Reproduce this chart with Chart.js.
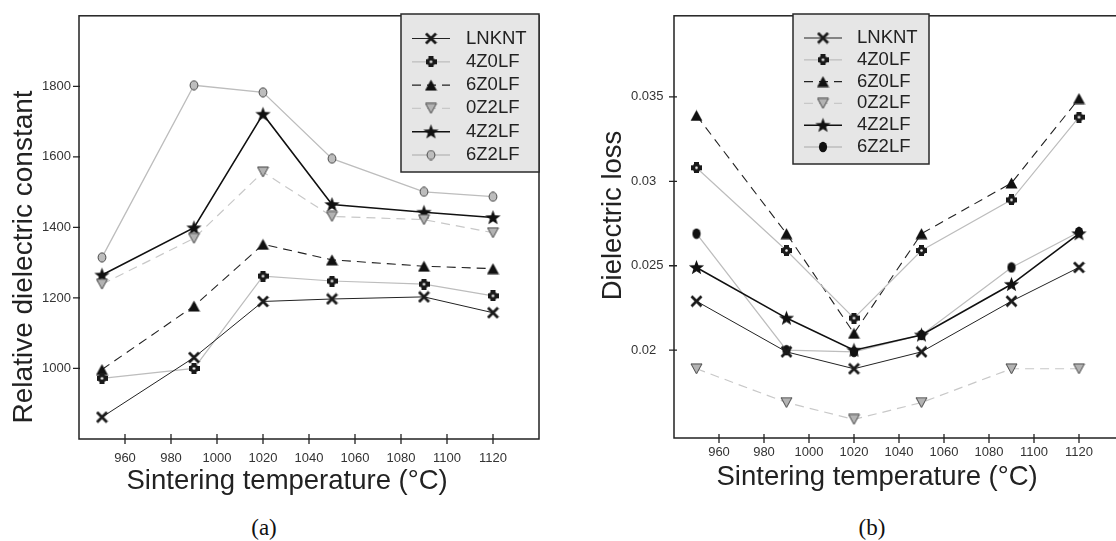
<!DOCTYPE html>
<html><head><meta charset="utf-8">
<script src="https://cdn.jsdelivr.net/npm/chart.js@4.4.1/dist/chart.umd.min.js"></script>
<style>
html,body{margin:0;padding:0;background:#fff;overflow:hidden;width:1116px;height:541px;}
#wrap{position:relative;width:1116px;height:541px;overflow:hidden;background:#fff;}
canvas{position:absolute;top:0;}
#cA{left:0;}
#cB{left:560px;}
.cap{position:absolute;font-family:"Liberation Serif","Times New Roman",serif;font-size:23px;color:#111;width:100px;text-align:center;line-height:28px;top:514px;}
</style></head><body>
<div id="wrap">
<canvas id="cA" width="548" height="505"></canvas>
<canvas id="cB" width="575" height="505"></canvas>
<div class="cap" style="left:214px">(a)</div>
<div class="cap" style="left:822px">(b)</div>
</div>
<script>
// ---- data ----
const temperatures = [950, 990, 1020, 1050, 1090, 1120];
const seriesNames = ['LNKNT', '4Z0LF', '6Z0LF', '0Z2LF', '4Z2LF', '6Z2LF'];

// (a) relative dielectric constant
const epsLNKNT = [862, 1031, 1190, 1197, 1203, 1158];
const eps4Z0LF = [972, 1000, 1262, 1248, 1239, 1206];
const eps6Z0LF = [997, 1177, 1352, 1308, 1290, 1283];
const eps0Z2LF = [1239, 1369, 1557, 1431, 1422, 1385];
const eps4Z2LF = [1265, 1399, 1721, 1465, 1443, 1428];
const eps6Z2LF = [1315, 1803, 1783, 1595, 1501, 1487];

// (b) dielectric loss
const lossLNKNT = [0.0229, 0.0199, 0.0189, 0.0199, 0.0229, 0.0249];
const loss4Z0LF = [0.0308, 0.0259, 0.0219, 0.0259, 0.0289, 0.0338];
const loss6Z0LF = [0.0339, 0.0269, 0.0210, 0.0269, 0.0299, 0.0349];
const loss0Z2LF = [0.0189, 0.0169, 0.0159, 0.0169, 0.0189, 0.0189];
const loss4Z2LF = [0.0249, 0.0219, 0.0200, 0.0209, 0.0239, 0.0269];
const loss6Z2LF = [0.0269, 0.0200, 0.0199, 0.0209, 0.0249, 0.0270];

// tick values
const xTicks = [940, 960, 980, 1000, 1020, 1040, 1060, 1080, 1100, 1120, 1140];
const epsTicks = [800, 1000, 1200, 1400, 1600, 1800, 2000];
const lossTicks = [0.02, 0.025, 0.03, 0.035];

// ---- styles ----
const FAM = '"Liberation Sans", Arial, Helvetica, sans-serif';
const lineStyles = [
  {color: '#222', width: 1, dash: []},
  {color: '#bdbdbd', width: 1.2, dash: []},
  {color: '#222', width: 1.1, dash: [9, 6]},
  {color: '#c8c8c8', width: 1.2, dash: [9, 6]},
  {color: '#111', width: 1.6, dash: []},
  {color: '#bdbdbd', width: 1.3, dash: []}
];

function makeMarker(w, h, draw) {
  const c = document.createElement('canvas');
  c.width = w; c.height = h;
  draw(c.getContext('2d'));
  return c;
}
const mX = makeMarker(13, 13, g => {
  g.strokeStyle = '#1a1a1a'; g.lineWidth = 2.8;
  g.beginPath(); g.moveTo(1.5, 1.5); g.lineTo(11.5, 11.5); g.moveTo(11.5, 1.5); g.lineTo(1.5, 11.5); g.stroke();
});
const mPlus = makeMarker(11, 11, g => {
  g.fillStyle = '#1a1a1a';
  g.fillRect(3, 0, 5, 11); g.fillRect(0, 3, 11, 5);
  g.beginPath(); g.arc(5.5, 5.5, 4.4, 0, Math.PI * 2); g.fill();
  g.fillStyle = '#fff'; g.beginPath(); g.arc(5.5, 5.5, 1.3, 0, Math.PI * 2); g.fill();
});
const mTri = makeMarker(13, 12, g => {
  g.fillStyle = '#111';
  g.beginPath(); g.moveTo(6.5, 0.5); g.lineTo(12.5, 11.5); g.lineTo(0.5, 11.5); g.closePath(); g.fill();
});
const mTriDown = makeMarker(13, 12, g => {
  g.fillStyle = '#b3b3b3'; g.strokeStyle = '#444'; g.lineWidth = 1;
  g.beginPath(); g.moveTo(1, 1); g.lineTo(12, 1); g.lineTo(6.5, 11); g.closePath(); g.fill(); g.stroke();
});
const mStar = makeMarker(17, 17, g => {
  g.fillStyle = '#111'; g.beginPath();
  for (let i = 0; i < 10; i++) {
    const r = i % 2 ? 3.3 : 8.0;
    const a = -Math.PI / 2 + i * Math.PI / 5;
    const x = 8.5 + r * Math.cos(a), y = 8.9 + r * Math.sin(a);
    if (i) g.lineTo(x, y); else g.moveTo(x, y);
  }
  g.closePath(); g.fill();
});
const mOvalGray = makeMarker(10, 11, g => {
  g.fillStyle = '#bdbdbd'; g.strokeStyle = '#444'; g.lineWidth = 1;
  g.beginPath(); g.ellipse(5, 5.5, 3.9, 4.6, 0, 0, Math.PI * 2); g.fill(); g.stroke();
});
const mOvalBlack = makeMarker(10, 12, g => {
  g.fillStyle = '#111';
  g.beginPath(); g.ellipse(5, 6, 4.1, 5.3, 0, 0, Math.PI * 2); g.fill();
});

function buildDatasets(lists, markers) {
  return seriesNames.map((name, i) => ({
    label: name,
    data: temperatures.map((t, j) => ({x: t, y: lists[i][j]})),
    borderColor: lineStyles[i].color,
    borderWidth: lineStyles[i].width,
    borderDash: lineStyles[i].dash,
    pointStyle: markers[i],
    pointRadius: 5,
    pointHoverRadius: 5,
    fill: false,
    tension: 0
  }));
}

const framePlugin = {
  id: 'frame',
  afterDatasetsDraw(chart, args, o) {
    const {ctx, chartArea: a} = chart;
    const x = chart.scales.x, y = chart.scales.y;
    ctx.save();
    ctx.strokeStyle = '#222'; ctx.lineWidth = 1.5;
    ctx.strokeRect(a.left, a.top, a.right - a.left, a.bottom - a.top);
    ctx.lineWidth = 1.3; ctx.beginPath();
    x.ticks.forEach(t => { const p = x.getPixelForValue(t.value); ctx.moveTo(p, a.bottom - o.xIn); ctx.lineTo(p, a.bottom + o.xOut); });
    y.ticks.forEach(t => { const p = y.getPixelForValue(t.value); ctx.moveTo(a.left - o.yOut, p); ctx.lineTo(a.left + o.yIn, p); });
    ctx.stroke();
    ctx.restore();
  }
};
const boxLegend = {
  id: 'boxLegend',
  afterDraw(chart, args, o) {
    const ctx = chart.ctx;
    ctx.save();
    ctx.fillStyle = '#e6e6e6'; ctx.fillRect(o.x, o.y, o.w, o.h);
    ctx.strokeStyle = '#2a2a2a'; ctx.lineWidth = 1.5; ctx.strokeRect(o.x, o.y, o.w, o.h);
    chart.data.datasets.forEach((ds, i) => {
      const cy = o.row0 + i * o.rowGap;
      ctx.strokeStyle = ds.borderColor; ctx.lineWidth = ds.borderWidth; ctx.setLineDash(ds.borderDash || []);
      ctx.beginPath(); ctx.moveTo(o.lineX1, cy); ctx.lineTo(o.lineX2, cy); ctx.stroke();
      ctx.setLineDash([]);
      const img = ds.pointStyle, mx = (o.lineX1 + o.lineX2) / 2;
      ctx.drawImage(img, mx - img.width / 2, cy - img.height / 2);
      ctx.fillStyle = '#222'; ctx.font = o.font; ctx.textBaseline = 'middle'; ctx.textAlign = 'left';
      ctx.fillText(ds.label, o.textX, cy);
    });
    ctx.restore();
  }
};

function xScale(height, pad, title, titlePad) {
  return {
    type: 'linear', min: xTicks[0], max: xTicks[xTicks.length - 1],
    afterFit(s) { s.height = height; },
    afterBuildTicks(s) { s.ticks = xTicks.map(v => ({value: v})); },
    ticks: {padding: pad, color: '#333', font: {family: FAM, size: 13}, autoSkip: false, maxRotation: 0,
      callback: v => (v === xTicks[0] || v === xTicks[xTicks.length - 1]) ? null : String(v)},
    grid: {display: false, drawTicks: false}, border: {display: false},
    title: {display: true, text: title, color: '#222', font: {family: FAM, size: 27.5}, padding: {top: 0, bottom: titlePad}}
  };
}

const markersA = [mX, mPlus, mTri, mTriDown, mStar, mOvalGray];
const markersB = [mX, mPlus, mTri, mTriDown, mStar, mOvalBlack];

new Chart(document.getElementById('cA'), {
  type: 'line',
  data: {datasets: buildDatasets([epsLNKNT, eps4Z0LF, eps6Z0LF, eps0Z2LF, eps4Z2LF, eps6Z2LF], markersA)},
  options: {
    responsive: false, animation: false, events: [],
    layout: {padding: {left: 0, top: 14, right: 9, bottom: 0}},
    plugins: {
      legend: {display: false}, tooltip: {enabled: false},
      frame: {xIn: 5, xOut: 5, yOut: 6, yIn: 1},
      boxLegend: {x: 401, y: 14, w: 138, h: 158, row0: 38.5, rowGap: 23.3, lineX1: 412, lineX2: 450, textX: 466,
        font: '18.5px ' + FAM}
    },
    scales: {
      x: xScale(66, 12, 'Sintering temperature (°C)     \u2009', 7.5),
      y: {
        min: epsTicks[0], max: epsTicks[epsTicks.length - 1],
        afterFit(s) { s.width = 79; },
        afterBuildTicks(s) { s.ticks = epsTicks.map(v => ({value: v})); },
        ticks: {padding: 8, color: '#333', font: {family: FAM, size: 13},
          callback: v => (v === epsTicks[0] || v === epsTicks[epsTicks.length - 1]) ? null : String(v)},
        grid: {display: false, drawTicks: false}, border: {display: false},
        title: {display: true, text: '  Relative dielectric constant', align: 'start', color: '#222',
          font: {family: FAM, size: 28}, padding: {top: 7.7, bottom: 0}}
      }
    }
  },
  plugins: [framePlugin, boxLegend]
});

new Chart(document.getElementById('cB'), {
  type: 'line',
  data: {datasets: buildDatasets([lossLNKNT, loss4Z0LF, loss6Z0LF, loss0Z2LF, loss4Z2LF, loss6Z2LF], markersB)},
  options: {
    responsive: false, animation: false, events: [],
    layout: {padding: {left: 71, top: 14, right: 11, bottom: 0}},
    plugins: {
      legend: {display: false}, tooltip: {enabled: false},
      frame: {xIn: 4, xOut: 5, yOut: 5, yIn: 3},
      boxLegend: {x: 233, y: 14, w: 136, h: 150, row0: 38, rowGap: 21.8, lineX1: 244, lineX2: 282, textX: 297,
        font: '18.5px ' + FAM}
    },
    scales: {
      x: xScale(67, 7, 'Sintering temperature (°C)     \u2009', 11.5),
      y: {
        min: 0.0148, max: 0.0398,
        afterFit(s) { s.width = 43; },
        afterBuildTicks(s) { s.ticks = lossTicks.map(v => ({value: v})); },
        ticks: {padding: 8, crossAlign: 'far', color: '#333', font: {family: FAM, size: 13},
          callback: v => String(+v.toFixed(3))},
        grid: {display: false, drawTicks: false}, border: {display: false},
        title: {display: true, text: '   Dielectric loss', color: '#222',
          font: {family: FAM, size: 27.5}, padding: {top: -34.5, bottom: 0}}
      }
    }
  },
  plugins: [framePlugin, boxLegend]
});
</script>
</body></html>
